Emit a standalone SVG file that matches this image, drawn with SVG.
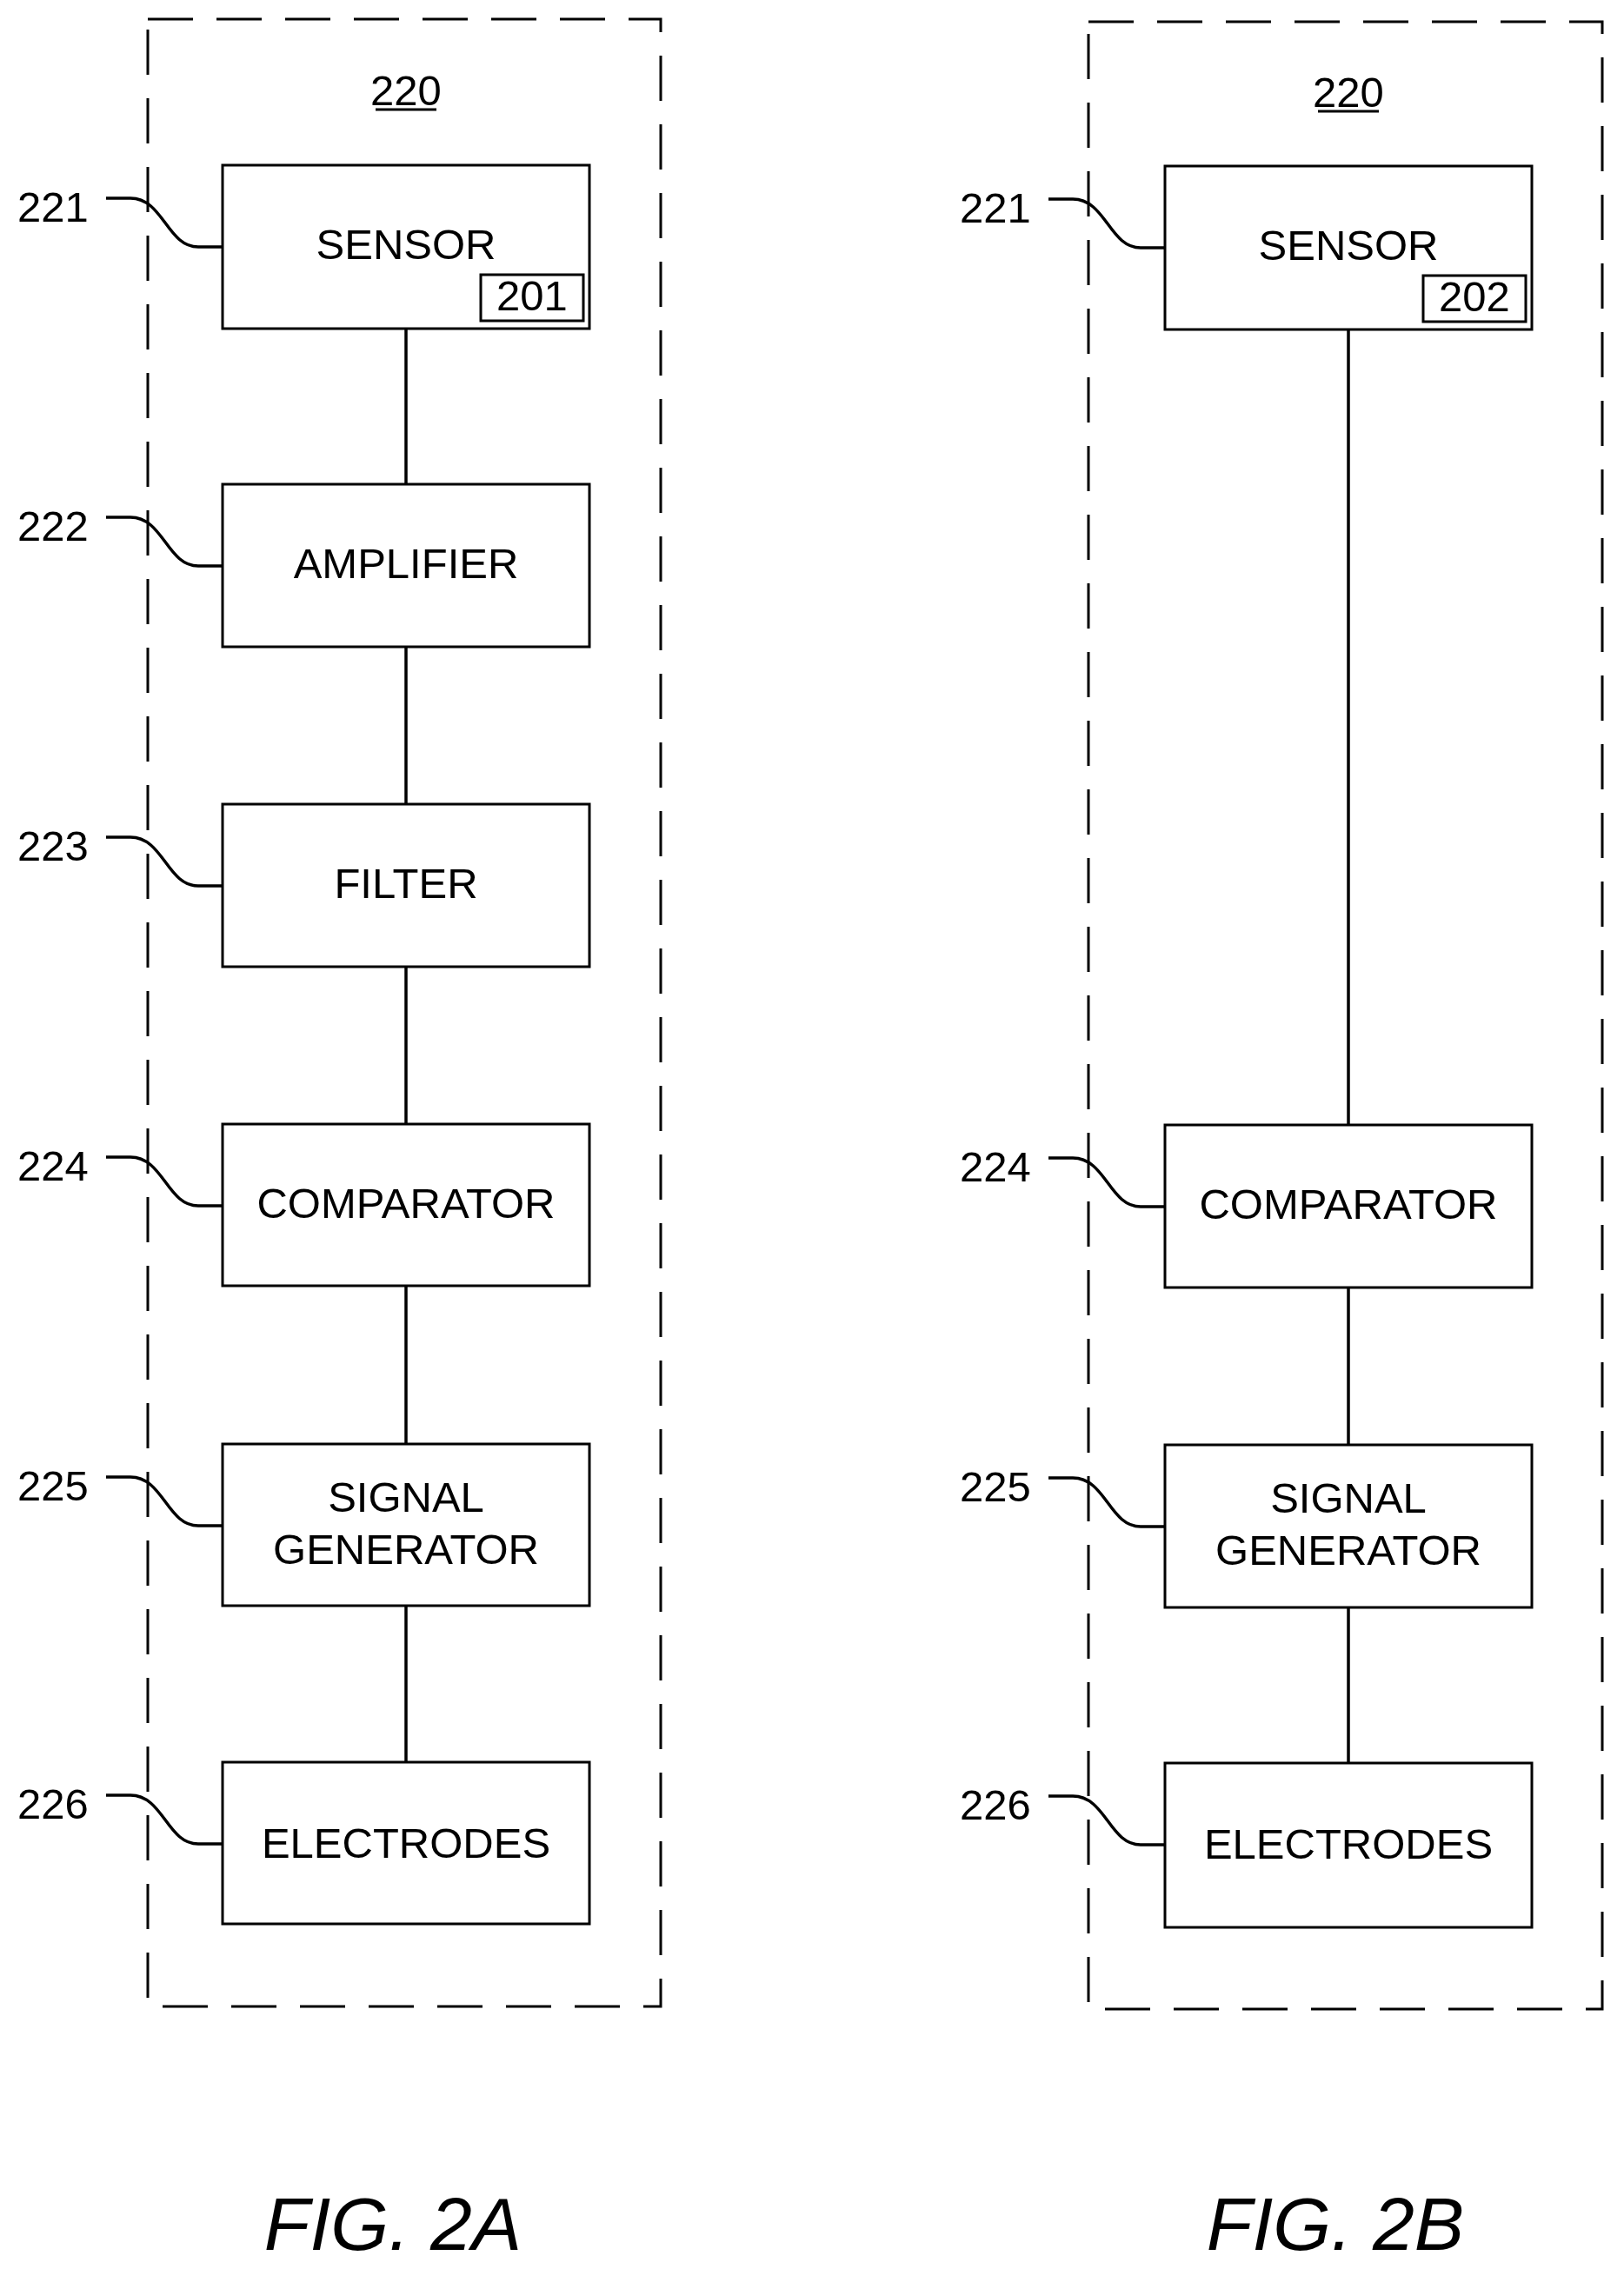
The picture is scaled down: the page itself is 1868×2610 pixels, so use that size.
<svg xmlns="http://www.w3.org/2000/svg" width="1868" height="2610" viewBox="0 0 1868 2610">
<style>
.b{fill:none;stroke:#000;stroke-width:3}
.d{fill:none;stroke:#000;stroke-width:3;stroke-dasharray:52 27}
.l{fill:none;stroke:#000;stroke-width:3.5}
text{font-family:"Liberation Sans",Arial,sans-serif;font-size:49px;fill:#000}
.c{text-anchor:middle}
.f{font-size:86px;font-style:italic;text-anchor:middle}
</style>
<defs>
<path id="lead" d="M122 228 H150 C188 228 192 284 228 284 H256" class="l"/>
</defs>
<rect class="d" x="170" y="22" width="590" height="2286"/>
<rect class="d" x="1252" y="25" width="591" height="2286"/>
<g id="lbl220a"><text class="c" x="467" y="121">220</text><line x1="432" y1="126" x2="502" y2="126" stroke="#000" stroke-width="3"/></g>
<g id="lbl220b"><text class="c" x="1551" y="123">220</text><line x1="1516" y1="128" x2="1586" y2="128" stroke="#000" stroke-width="3"/></g>
<g id="connectors">
<line class="l" x1="467" y1="378" x2="467" y2="557"/>
<line class="l" x1="467" y1="744" x2="467" y2="925"/>
<line class="l" x1="467" y1="1112" x2="467" y2="1293"/>
<line class="l" x1="467" y1="1479" x2="467" y2="1661"/>
<line class="l" x1="467" y1="1847" x2="467" y2="2027"/>
<line class="l" x1="1551" y1="379" x2="1551" y2="1294"/>
<line class="l" x1="1551" y1="1481" x2="1551" y2="1662"/>
<line class="l" x1="1551" y1="1849" x2="1551" y2="2028"/>
</g>
<g id="a221" transform="translate(0,190)"><rect class="b" x="256" y="0" width="422" height="188"/><text class="c" x="467" y="108">SENSOR</text><rect class="b" x="553" y="126" width="118" height="53" stroke-width="2.5"/><text class="c" x="612" y="167">201</text><use href="#lead" transform="translate(0,-190)"/><text x="20" y="65">221</text></g>
<g id="a222" transform="translate(0,557)"><rect class="b" x="256" y="0" width="422" height="187"/><text class="c" x="467" y="108">AMPLIFIER</text><use href="#lead" transform="translate(0,-190)"/><text x="20" y="65">222</text></g>
<g id="a223" transform="translate(0,925)"><rect class="b" x="256" y="0" width="422" height="187"/><text class="c" x="467" y="108">FILTER</text><use href="#lead" transform="translate(0,-190)"/><text x="20" y="65">223</text></g>
<g id="a224" transform="translate(0,1293)"><rect class="b" x="256" y="0" width="422" height="186"/><text class="c" x="467" y="108">COMPARATOR</text><use href="#lead" transform="translate(0,-190)"/><text x="20" y="65">224</text></g>
<g id="a225" transform="translate(0,1661)"><rect class="b" x="256" y="0" width="422" height="186"/><text class="c" x="467" y="78">SIGNAL</text><text class="c" x="467" y="138">GENERATOR</text><use href="#lead" transform="translate(0,-190)"/><text x="20" y="65">225</text></g>
<g id="a226" transform="translate(0,2027)"><rect class="b" x="256" y="0" width="422" height="186"/><text class="c" x="467" y="110">ELECTRODES</text><use href="#lead" transform="translate(0,-190)"/><text x="20" y="65">226</text></g>
<g id="b221" transform="translate(1084,191)"><rect class="b" x="256" y="0" width="422" height="188"/><text class="c" x="467" y="108">SENSOR</text><rect class="b" x="553" y="126" width="118" height="53" stroke-width="2.5"/><text class="c" x="612" y="167">202</text><use href="#lead" transform="translate(0,-190)"/><text x="20" y="65">221</text></g>
<g id="b224" transform="translate(1084,1294)"><rect class="b" x="256" y="0" width="422" height="187"/><text class="c" x="467" y="108">COMPARATOR</text><use href="#lead" transform="translate(0,-190)"/><text x="20" y="65">224</text></g>
<g id="b225" transform="translate(1084,1662)"><rect class="b" x="256" y="0" width="422" height="187"/><text class="c" x="467" y="78">SIGNAL</text><text class="c" x="467" y="138">GENERATOR</text><use href="#lead" transform="translate(0,-190)"/><text x="20" y="65">225</text></g>
<g id="b226" transform="translate(1084,2028)"><rect class="b" x="256" y="0" width="422" height="189"/><text class="c" x="467" y="110">ELECTRODES</text><use href="#lead" transform="translate(0,-190)"/><text x="20" y="65">226</text></g>
<text class="f" x="452" y="2588">FIG. 2A</text>
<text class="f" x="1536" y="2588">FIG. 2B</text>
</svg>
